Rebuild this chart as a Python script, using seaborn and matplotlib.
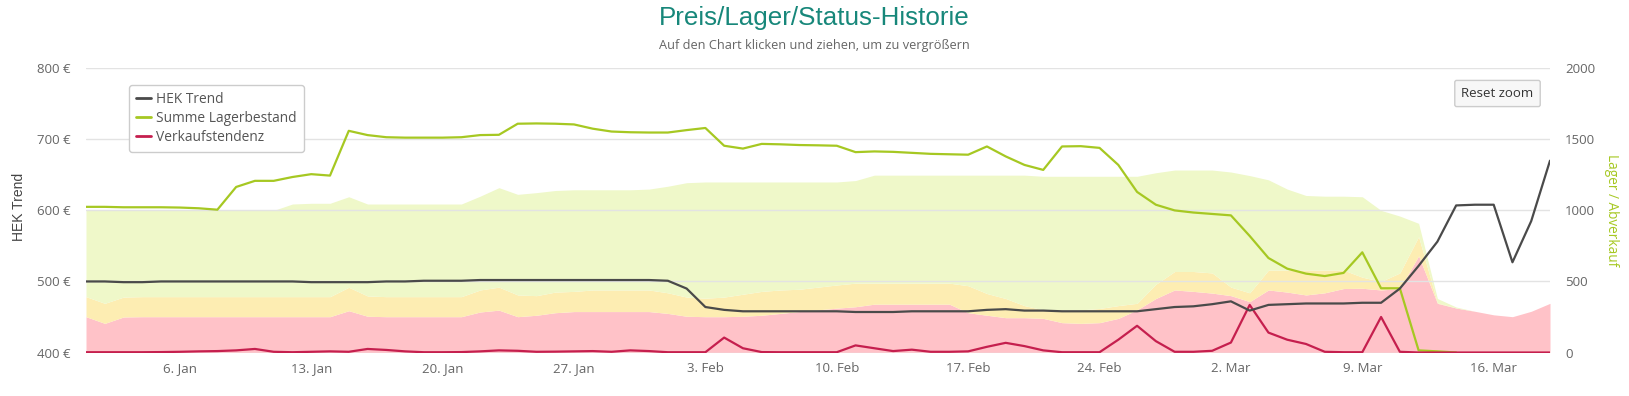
import numpy as np
import pandas as pd
import matplotlib
matplotlib.use('Agg')
import matplotlib.pyplot as plt
import seaborn as sns
from matplotlib.lines import Line2D

sns.set_style('white')
plt.rcParams['font.family'] = ['Open Sans', 'DejaVu Sans']

# --------------------- Daten (taeglich, 1. Jan - 19. Mar) ---------------------
datum = pd.date_range('2020-01-01', '2020-03-19', freq='D')

hek_trend = [
    500, 500, 499, 499, 500, 500, 500, 500, 500, 500,
    500, 500, 499, 499, 499, 499, 500, 500, 501, 501,
    501, 502, 502, 502, 502, 502, 502, 502, 502, 502,
    502, 501, 490, 464, 460, 458, 458, 458, 458, 458,
    458, 457, 457, 457, 458, 458, 458, 458, 460, 461,
    459, 459, 458, 458, 458, 458, 458, 461, 464, 465,
    468, 472, 459, 467, 468, 469, 469, 469, 470, 470,
    490, 522, 556, 607, 608, 608, 527, 585, 670,
]

summe_lager = [
    1025, 1025, 1022, 1022, 1022, 1020, 1015, 1005, 1165, 1208,
    1208, 1235, 1255, 1245, 1560, 1530, 1515, 1512, 1512, 1512,
    1515, 1530, 1532, 1610, 1612, 1610, 1605, 1575, 1555, 1550,
    1548, 1548, 1565, 1580, 1455, 1435, 1468, 1465, 1460, 1458,
    1455, 1410, 1415, 1412, 1405, 1398, 1395, 1392, 1450, 1380,
    1320, 1285, 1450, 1452, 1440, 1320, 1130, 1040, 1000, 985,
    975, 965, 820, 665, 590, 555, 538, 560, 705, 452,
    452, 15, 8, 0, np.nan, np.nan, np.nan, np.nan, np.nan,
]

verkaufstendenz = [
    2, 2, 2, 2, 3, 5, 8, 10, 15, 25,
    5, 2, 5, 8, 5, 25, 18, 8, 2, 2,
    3, 8, 15, 12, 5, 6, 8, 10, 5, 15,
    10, 2, 2, 2, 105, 30, 3, 2, 2, 2,
    2, 50, 30, 10, 20, 5, 5, 8, 40, 68,
    45, 15, 2, 2, 2, 90, 188, 80, 5, 5,
    12, 70, 335, 140, 90, 60, 5, 2, 2, 250,
    5, 0, 0, 0, 0, 0, 0, 0, 0,
]

# Obergrenzen der gestapelten Status-Flaechen
rot_oben = [
    252, 205, 250, 252, 252, 252, 252, 252, 252, 252,
    252, 252, 252, 252, 294, 255, 252, 252, 252, 252,
    252, 285, 298, 252, 262, 280, 288, 288, 288, 288,
    288, 275, 255, 252, 252, 255, 262, 275, 288, 300,
    312, 322, 340, 340, 340, 340, 340, 280, 262, 245,
    245, 240, 210, 205, 210, 240, 300, 380, 440, 430,
    418, 400, 358, 440, 425, 405, 420, 450, 452, 440,
    450, 680, 346, 313, 290, 265, 252, 290, 346,
]

gelb_oben = [
    393, 346, 390, 393, 393, 393, 393, 393, 393, 393,
    393, 393, 393, 393, 459, 398, 393, 393, 393, 393,
    393, 440, 460, 405, 400, 425, 430, 440, 440, 440,
    440, 420, 390, 382, 390, 410, 430, 440, 445, 460,
    475, 488, 488, 488, 488, 488, 488, 470, 415, 380,
    330, 300, 300, 300, 310, 330, 346, 480, 570, 570,
    560, 460, 420, 580, 580, 580, 580, 580, 530, 500,
    560, 815, 350, 313, 290, 265, 252, 290, 346,
]

gruen_oben = [
    1000, 1000, 1000, 1000, 1000, 1000, 1000, 1000, 1000, 1000,
    1000, 1045, 1050, 1050, 1096, 1045, 1045, 1045, 1045, 1045,
    1045, 1100, 1160, 1113, 1125, 1140, 1145, 1145, 1145, 1145,
    1150, 1170, 1195, 1200, 1200, 1200, 1200, 1200, 1200, 1200,
    1200, 1210, 1248, 1248, 1248, 1248, 1248, 1248, 1248, 1248,
    1248, 1240, 1240, 1240, 1240, 1240, 1240, 1265, 1284, 1284,
    1284, 1270, 1245, 1215, 1150, 1105, 1100, 1100, 1096, 1000,
    960, 909, 380, 320, 290, 265, 252, 290, 346,
]

x_ticks = ['2020-01-06', '2020-01-13', '2020-01-20', '2020-01-27', '2020-02-03',
           '2020-02-10', '2020-02-17', '2020-02-24', '2020-03-02', '2020-03-09',
           '2020-03-16']
x_labels = ['6. Jan', '13. Jan', '20. Jan', '27. Jan', '3. Feb', '10. Feb',
            '17. Feb', '24. Feb', '2. Mar', '9. Mar', '16. Mar']
lager_ticks = [0, 500, 1000, 1500, 2000]
hek_ticks = [400, 500, 600, 700, 800]
hek_labels = ['400 €', '500 €', '600 €', '700 €', '800 €']

# --------------------- Plot ---------------------
W, H = 1629, 396
fig = plt.figure(figsize=(W / 100, H / 100), dpi=100)
ax = fig.add_axes([86 / W, 1 - 352.5 / H, (1550 - 86) / W, (352.5 - 68.3) / H])

# gestapelte Flaechen (rechte Achse)
ax.fill_between(datum, 0, rot_oben, color='#ffc2c8', lw=0, zorder=1)
ax.fill_between(datum, rot_oben, gelb_oben, color='#fdedb2', lw=0, zorder=1)
ax.fill_between(datum, gelb_oben, gruen_oben, color='#eff8c9', lw=0, zorder=1)

sns.lineplot(x=datum, y=summe_lager, ax=ax, color='#a6c822', linewidth=1.6, zorder=3)
sns.lineplot(x=datum, y=verkaufstendenz, ax=ax, color='#c51f4e', linewidth=1.6, zorder=4)

# HEK Trend (linke Achse), oben drauf
ax_h = ax.twinx()
sns.lineplot(x=datum, y=hek_trend, ax=ax_h, color='#4a4a4a', linewidth=1.6)

ax.set_ylim(0, 2000)
ax.set_xlim(datum[0], datum[-1])
ax.set_yticks(lager_ticks)
ax.set_yticklabels([str(t) for t in lager_ticks])
ax.yaxis.tick_right()
ax.set_xticks(pd.to_datetime(x_ticks))
ax.set_xticklabels(x_labels)
ax.set_axisbelow(False)
ax.grid(axis='y', color='#e3e3e3', linewidth=1)
ax.grid(axis='x', visible=False)
ax.tick_params(axis='y', length=0, pad=11, labelsize=9.5, labelcolor='#666666',
               left=False, labelleft=False, right=True, labelright=True)
ax.tick_params(axis='x', length=0, pad=7, labelsize=9.5, labelcolor='#666666')
ax.set_xlabel('')
ax.set_ylabel('')

ax_h.set_ylim(400, 800)
ax_h.set_xlim(datum[0], datum[-1])
ax_h.yaxis.tick_left()
ax_h.set_yticks(hek_ticks)
ax_h.set_yticklabels(hek_labels)
ax_h.tick_params(axis='y', length=0, pad=11, labelsize=9.5, labelcolor='#666666',
                 left=True, labelleft=True, right=False, labelright=False)
ax_h.set_ylabel('')
ax_h.grid(False)
ax_h.patch.set_visible(False)

for a in (ax, ax_h):
    for s in a.spines.values():
        s.set_visible(False)

# Achsentitel
fig.text(19 / W, 1 - 207 / H, 'HEK Trend', rotation=90, ha='center', va='center',
         fontsize=10, color='#444444', family='Liberation Sans')
fig.text(1612 / W, 1 - 210 / H, 'Lager / Abverkauf', rotation=270, ha='center', va='center',
         fontsize=9.8, color='#a6c822')

# Titel
fig.text(0.5, 1 - 18 / H, 'Preis/Lager/Status-Historie', ha='center', va='center',
         fontsize=18.7, color='#17877a', family='Liberation Sans')
fig.text(0.5, 1 - 46 / H, 'Auf den Chart klicken und ziehen, um zu vergrößern',
         ha='center', va='center', fontsize=9.2, color='#666666')

# Reset zoom Knopf
fig.text(1497.5 / W, 1 - 93.5 / H, 'Reset zoom', ha='center', va='center', fontsize=9.5,
         color='#333333',
         bbox=dict(boxstyle='round,pad=0.5,rounding_size=0.15', fc='#f7f7f7', ec='#cccccc', lw=1))

# Legende
handles = [Line2D([], [], color='#4a4a4a', lw=2),
           Line2D([], [], color='#a6c822', lw=2),
           Line2D([], [], color='#c51f4e', lw=2)]
fig.legend(handles, ['HEK Trend', 'Summe Lagerbestand', 'Verkaufstendenz'],
           loc='upper left', bbox_to_anchor=(129 / W, 1 - 85 / H), frameon=True,
           fancybox=True, edgecolor='#cccccc', framealpha=1, fontsize=9.9,
           labelcolor='#555555', handlelength=1.1, handletextpad=0.4,
           labelspacing=0.3, borderpad=0.5, borderaxespad=0)

fig.savefig('out.png', dpi=100)
